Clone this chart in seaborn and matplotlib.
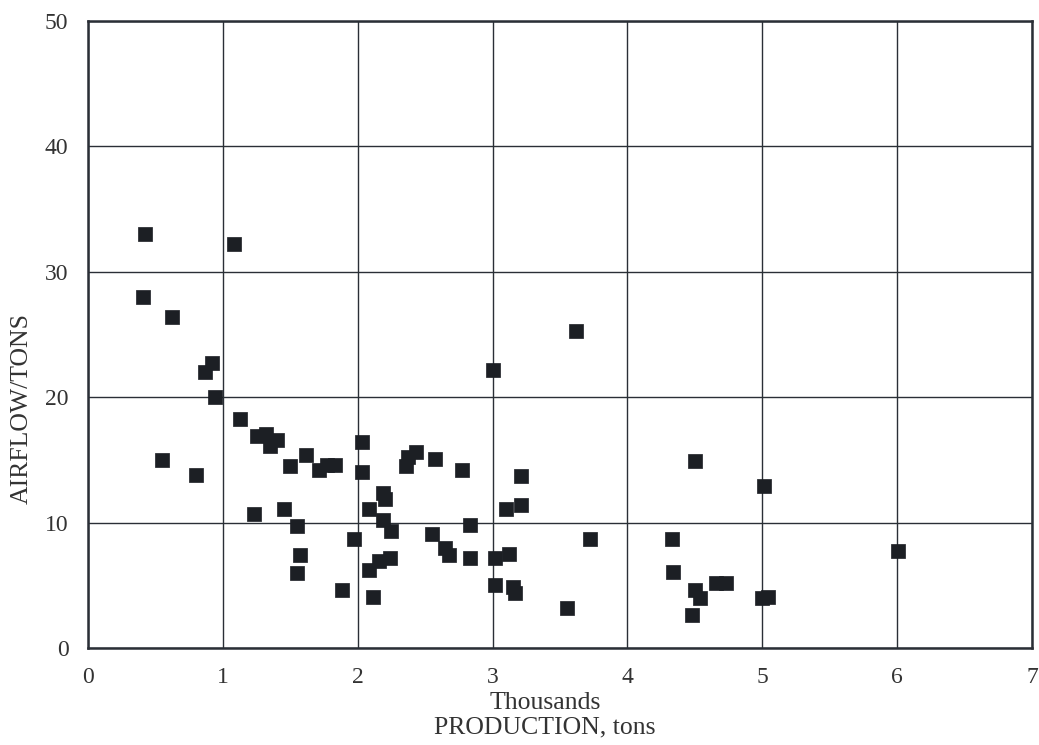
import matplotlib
matplotlib.use("Agg")
import matplotlib.pyplot as plt
import seaborn as sns
import pandas as pd

production = [0.42, 1.08, 0.41, 0.62, 0.92, 0.87, 0.94, 1.13, 1.25, 1.32, 1.40, 1.35,
              2.03, 0.55, 0.80, 1.62, 1.50, 1.71, 1.77, 1.83, 2.03, 2.19, 2.20, 2.08,
              1.23, 1.45, 1.55, 2.19, 2.25, 1.97, 1.57, 1.55, 2.16, 2.24, 2.08, 1.88,
              2.11, 3.62, 3.00, 2.37, 2.43, 2.36, 2.57, 2.77, 3.21, 3.10, 3.21, 2.83,
              2.55, 2.65, 2.68, 2.83, 3.02, 3.12, 3.72, 3.02, 3.15, 3.17, 3.55, 4.50,
              5.01, 4.33, 4.34, 4.66, 4.73, 4.50, 4.54, 4.48, 5.00, 5.04, 6.01]
airflow = [33.0, 32.2, 28.0, 26.4, 22.7, 22.0, 20.0, 18.3, 16.9, 17.1, 16.6, 16.1,
           16.4, 15.0, 13.8, 15.4, 14.5, 14.2, 14.6, 14.6, 14.0, 12.4, 11.9, 11.1,
           10.7, 11.1, 9.7, 10.2, 9.3, 8.7, 7.4, 6.0, 6.9, 7.2, 6.2, 4.6,
           4.1, 25.3, 22.2, 15.2, 15.6, 14.5, 15.1, 14.2, 13.7, 11.1, 11.4, 9.8,
           9.1, 8.0, 7.4, 7.2, 7.2, 7.5, 8.7, 5.0, 4.9, 4.4, 3.2, 14.9,
           12.9, 8.7, 6.1, 5.2, 5.2, 4.6, 4.0, 2.6, 4.0, 4.1, 7.7]

x_ticks = [0, 1, 2, 3, 4, 5, 6, 7]
y_ticks = [0, 10, 20, 30, 40, 50]

df = pd.DataFrame({"production": production, "airflow": airflow})

sns.set_style("white")
plt.rcParams['font.family'] = ['Liberation Serif', 'DejaVu Serif']

fig = plt.figure(figsize=(10.39, 7.45), dpi=100)
ax = fig.add_axes([88/1039, 97/745, (1032-88)/1039, (648-21)/745])

sns.scatterplot(data=df, x="production", y="airflow", ax=ax, marker="s",
                s=95, color="#1c1f24", edgecolor="#1c1f24", linewidth=0.5,
                zorder=3, legend=False)

ax.set_xlim(0, 7)
ax.set_ylim(0, 50)
ax.set_xticks(x_ticks)
ax.set_yticks(y_ticks)
ax.set_xticklabels([str(t) for t in x_ticks], fontsize=17, color="#333333")
ax.set_yticklabels([str(t) for t in y_ticks], fontsize=17, color="#333333")
ax.tick_params(axis="x", length=0, pad=14)
ax.tick_params(axis="y", length=0, pad=14)
ax.grid(True, color="#2a2f36", linewidth=1.0, zorder=1)
for sp in ax.spines.values():
    sp.set_visible(True)
    sp.set_color("#2a2f36")
    sp.set_linewidth(1.8)
ax.set_xlabel("")
ax.set_ylabel("")

fig.text(545/1039, 1 - 703/745, "Thousands", ha="center", va="center",
         fontsize=18.5, color="#333333")
fig.text(545/1039, 1 - 727/745, "PRODUCTION, tons", ha="center", va="center",
         fontsize=18.5, color="#333333")
fig.text(22/1039, 1 - 409/745, "AIRFLOW/TONS", ha="center", va="center",
         rotation=90, fontsize=18.5, color="#333333")

fig.savefig("out.png", dpi=100, facecolor="white")
